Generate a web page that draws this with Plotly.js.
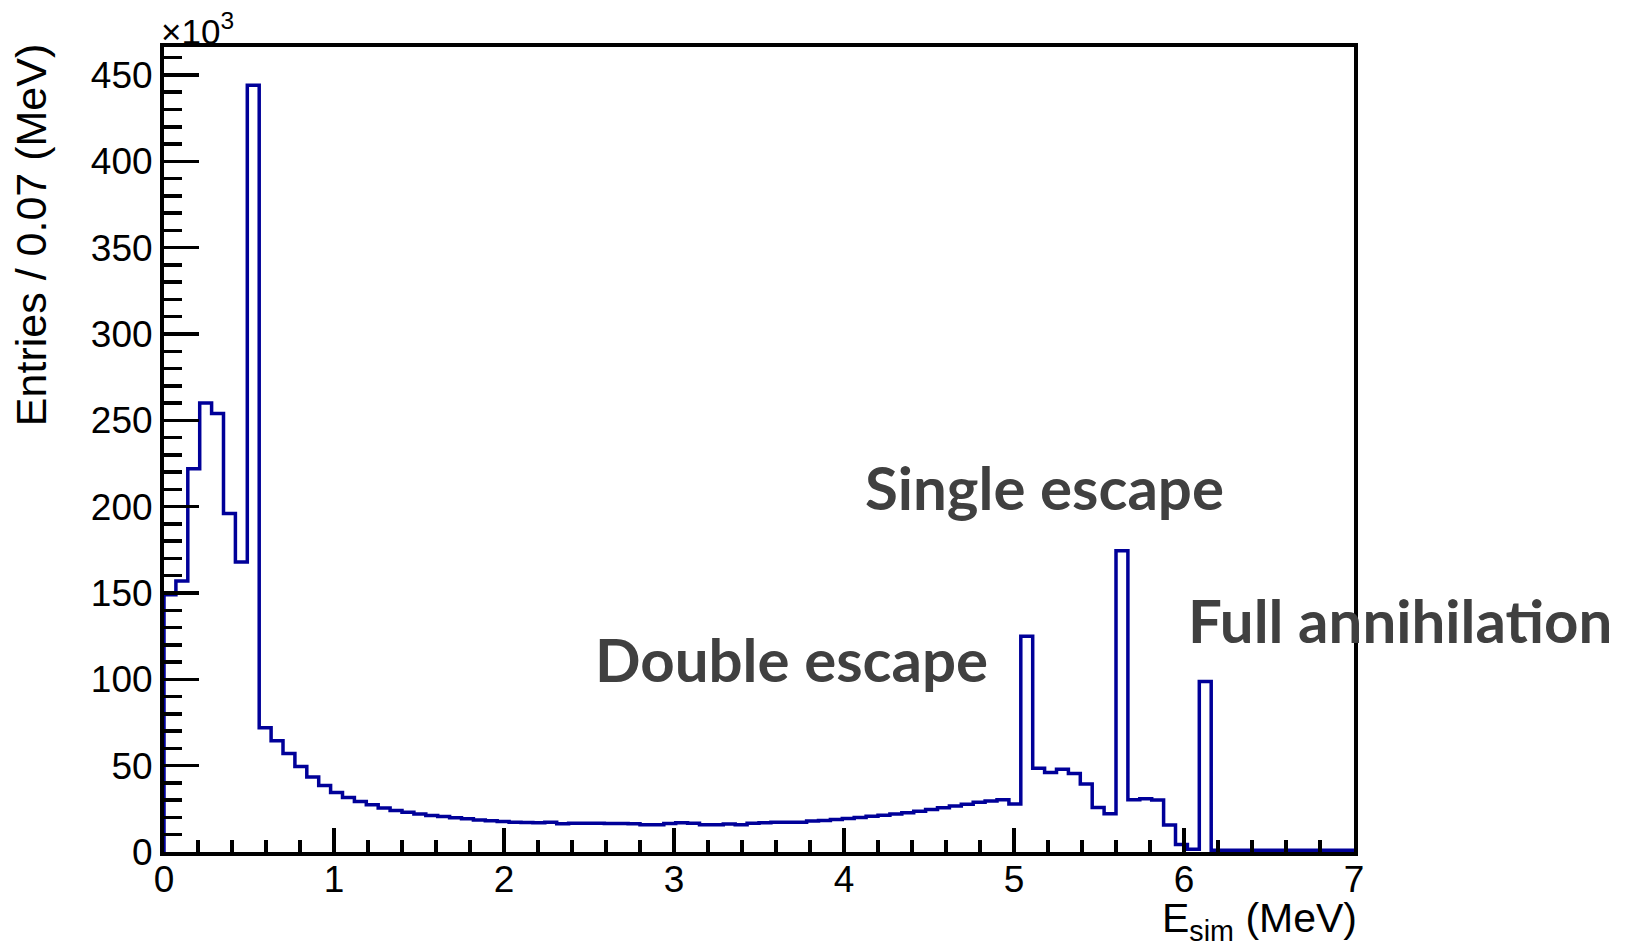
<!DOCTYPE html>
<html>
<head>
<meta charset="utf-8">
<script src="https://cdn.plot.ly/plotly-3.0.1.min.js"></script>
<style>
  html, body { margin: 0; padding: 0; background: #ffffff; }
  #chart { width: 1633px; height: 948px; }
</style>
</head>
<body>
<div id="chart"></div>
<script>
// Simulated deposited energy spectrum: 100 bins of 0.07 MeV from 0 to 7 MeV
const binWidth = 0.07;   // MeV
const xMin = 0;
const xMax = 7;

// Entries per bin, in units of 10^3
const entriesK = [
  149, 157, 222, 260, 254, 196, 168, 444, 72, 64.5,
  57, 49.5, 43.5, 38.5, 34.5, 31.5, 29.3, 27.3, 25.5, 24,
  23, 22, 21.2, 20.5, 19.9, 19.2, 18.6, 18.1, 17.7, 17.3,
  17.1, 17.0, 17.2, 16.3, 16.6, 16.6, 16.6, 16.5, 16.5, 16.3,
  15.8, 15.8, 16.5, 17.0, 16.6, 15.8, 15.8, 16.2, 15.8, 16.6,
  17.0, 17.2, 17.2, 17.2, 18.0, 18.3, 18.8, 19.4, 20.0, 20.7,
  21.3, 22.0, 22.8, 23.6, 24.6, 25.6, 26.6, 27.7, 28.8, 29.6,
  30.2, 27.8, 125, 48.5, 46, 47.9, 45.5, 39.4, 25.7, 22.2,
  174.5, 30.3, 30.8, 30.1, 15.6, 4.3, 1.6, 98.8, 1.0, 1.0,
  1.0, 1.0, 1.0, 1.0, 1.0, 1.0, 1.0, 1.0, 1.0, 1.0
];

const xTickVals = [0, 1, 2, 3, 4, 5, 6, 7];
const yTickVals = [0, 50, 100, 150, 200, 250, 300, 350, 400, 450];

const peakLabels = ["Double escape", "Single escape", "Full annihilation"];
const peakLabelPos = [   // paper coordinates of each label's left/middle point
  [0.3602, 0.2398],
  [0.5878, 0.4534],
  [0.8591, 0.2887]
];

// Step outline in the style of a ROOT histogram: rise at the first edge, flat tops
const xs = [xMin];
const ys = [0];
entriesK.forEach((v, i) => { xs.push(xMin + i * binWidth); ys.push(v); });
xs.push(xMax);
ys.push(entriesK[entriesK.length - 1]);

const yTop = Math.max(...entriesK) * 1.05;

const trace = {
  type: "scatter",
  mode: "lines",
  x: xs,
  y: ys,
  line: { shape: "hv", color: "#000099", width: 3.5 },
  hoverinfo: "skip",
  cliponaxis: false,
  showlegend: false
};

const tickFont = { family: "Liberation Sans, Arial, sans-serif", size: 37, color: "#000000" };
const ink = "#000000";

const annotations = [
  {
    text: "×10<sup>3</sup>",
    xref: "paper", yref: "paper", x: -0.004, y: 1.022,
    xanchor: "left", yanchor: "middle", showarrow: false,
    font: { family: "Liberation Sans, Arial, sans-serif", size: 35, color: ink }
  },
  {
    text: "Entries / 0.07 (MeV)",
    xref: "paper", yref: "paper", x: -0.1118, y: 1.006,
    xanchor: "center", yanchor: "top", textangle: -90, showarrow: false,
    font: { family: "Liberation Sans, Arial, sans-serif", size: 43, color: ink }
  },
  {
    text: "E<sub>sim</sub> (MeV)",
    xref: "paper", yref: "paper", x: 1.003, y: -0.052,
    xanchor: "right", yanchor: "top", showarrow: false, borderpad: 0,
    font: { family: "Liberation Sans, Arial, sans-serif", size: 41, color: ink }
  }
];

peakLabels.forEach((txt, i) => {
  annotations.push({
    text: txt,
    xref: "paper", yref: "paper", x: peakLabelPos[i][0], y: peakLabelPos[i][1],
    xanchor: "left", yanchor: "middle", showarrow: false,
    font: { family: "Lato, Open Sans, sans-serif", size: 60, color: "#404040", weight: "bold" }
  });
});

const layout = {
  width: 1633,
  height: 948,
  margin: { l: 164, r: 279, t: 47, b: 96, pad: 0 },
  paper_bgcolor: "#ffffff",
  plot_bgcolor: "#ffffff",
  showlegend: false,
  xaxis: {
    range: [xMin, xMax],
    tickvals: xTickVals,
    ticktext: xTickVals.map(String),
    ticks: "inside",
    ticklen: 24,
    tickwidth: 3.5,
    tickcolor: ink,
    tickfont: tickFont,
    ticklabelstandoff: -8,
    showgrid: false,
    zeroline: false,
    showline: true,
    linecolor: ink,
    linewidth: 4,
    mirror: true,
    minor: { dtick: 0.2, ticks: "inside", ticklen: 12, tickwidth: 3.5, tickcolor: ink, showgrid: false },
    fixedrange: true
  },
  yaxis: {
    range: [0, yTop],
    tickvals: yTickVals,
    ticktext: yTickVals.map(String),
    ticks: "inside",
    ticklen: 35,
    tickwidth: 3.5,
    tickcolor: ink,
    tickfont: tickFont,
    showgrid: false,
    zeroline: false,
    showline: true,
    linecolor: ink,
    linewidth: 4,
    mirror: true,
    minor: { dtick: 10, ticks: "inside", ticklen: 18, tickwidth: 3.5, tickcolor: ink, showgrid: false },
    fixedrange: true
  },
  annotations: annotations
};

Plotly.newPlot("chart", [trace], layout, { displayModeBar: false, staticPlot: true });
</script>
</body>
</html>
